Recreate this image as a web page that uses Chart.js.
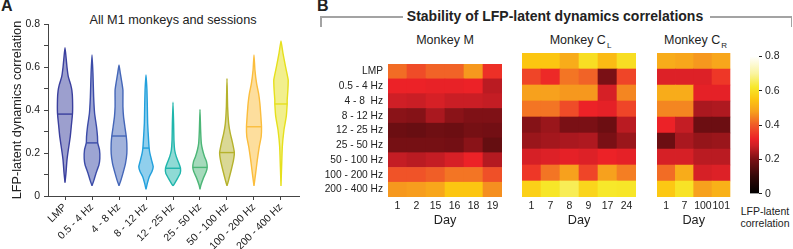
<!DOCTYPE html>
<html><head><meta charset="utf-8">
<script src="https://cdn.jsdelivr.net/npm/chart.js@4.4.1/dist/chart.umd.min.js"></script>
<style>
html,body{margin:0;padding:0;background:#fff;width:793px;height:249px;overflow:hidden;font-family:'Liberation Sans',Arial,Helvetica,sans-serif;color:#222}
canvas{position:absolute;display:block}
.t{position:absolute;white-space:nowrap;line-height:1}
.c{transform:translate(-50%,-50%)}
.ln{position:absolute;background:#a3a3a3}
</style></head><body>
<div class="t" style="left:1px;top:-2px;font-size:16px;font-weight:bold">A</div>
<div class="t c" style="left:173px;top:20px;font-size:12.7px">All M1 monkeys and sessions</div>
<div class="t" style="left:317px;top:-2px;font-size:16px;font-weight:bold">B</div>
<div class="ln" style="left:320px;top:16px;width:83px;height:1.5px"></div>
<div class="ln" style="left:320px;top:16px;width:1.5px;height:11px"></div>
<div class="ln" style="left:710px;top:16px;width:82px;height:1.5px"></div>
<div class="ln" style="left:790.5px;top:16px;width:1.5px;height:11px"></div>
<div class="t c" style="left:555px;top:16px;font-size:14px;font-weight:bold">Stability of LFP-latent dynamics correlations</div>
<div class="t c" style="left:445px;top:40px;font-size:12.5px">Monkey M</div>
<div class="t c" style="left:580px;top:40px;font-size:12.5px">Monkey C<span style="font-size:8px;position:relative;top:4px;left:1px">L</span></div>
<div class="t c" style="left:695px;top:40px;font-size:12.5px">Monkey C<span style="font-size:8px;position:relative;top:4px;left:1px">R</span></div>
<div class="t c" style="left:765px;top:211px;font-size:10.5px">LFP-latent</div>
<div class="t c" style="left:765px;top:223px;font-size:10.5px">correlation</div>

<canvas id="violin" width="300" height="249" style="left:0;top:0;width:300px;height:249px"></canvas>
<canvas id="hmM" width="202" height="179" style="left:300px;top:53px;width:202px;height:179px"></canvas>
<canvas id="hmCL" width="114" height="179" style="left:522px;top:53px;width:114px;height:179px"></canvas>
<canvas id="hmCR" width="76" height="179" style="left:657px;top:53px;width:76px;height:179px"></canvas>
<canvas id="cbar" width="43" height="156" style="left:750px;top:47px;width:43px;height:156px"></canvas>

<script>
// ---------------- DATA ----------------
const bandCategories = ['LMP','0.5 - 4 Hz','4 - 8 Hz','8 - 12 Hz','12 - 25 Hz','25 - 50 Hz','50 - 100 Hz','100 - 200 Hz','200 - 400 Hz'];
const medians = [0.381,0.247,0.279,0.223,0.129,0.133,0.202,0.322,0.428];
// violin outlines: [correlation value, relative density (0..1)] from bottom tip to top tip
const violinLMP   = [[0.062,0],[0.105,0.12],[0.167,0.25],[0.214,0.42],[0.276,0.67],[0.32,0.79],[0.385,0.96],[0.45,0.96],[0.49,0.88],[0.52,0.71],[0.555,0.42],[0.60,0.25],[0.65,0.12],[0.69,0]];
const violin05_4  = [[0.048,0],[0.074,0.25],[0.105,0.5],[0.144,0.88],[0.175,1.0],[0.214,0.96],[0.247,0.73],[0.276,0.7],[0.32,0.58],[0.385,0.33],[0.46,0.21],[0.57,0.12],[0.656,0]];
const violin4_8   = [[0.048,0],[0.074,0.25],[0.105,0.5],[0.152,0.83],[0.198,1.0],[0.245,1.0],[0.279,0.92],[0.322,0.75],[0.369,0.58],[0.415,0.5],[0.447,0.5],[0.493,0.5],[0.524,0.38],[0.57,0.17],[0.609,0]];
const violin8_12  = [[0.031,0],[0.059,0.17],[0.09,0.42],[0.113,0.75],[0.136,0.92],[0.167,0.71],[0.198,0.5],[0.223,0.4],[0.26,0.33],[0.338,0.21],[0.415,0.17],[0.493,0.12],[0.563,0]];
const violin12_25 = [[0.047,0],[0.059,0.21],[0.082,0.58],[0.105,0.92],[0.129,0.96],[0.152,0.75],[0.183,0.42],[0.214,0.21],[0.26,0.12],[0.338,0.08],[0.436,0]];
const violin25_50 = [[0.031,0],[0.051,0.12],[0.082,0.42],[0.113,0.79],[0.133,0.92],[0.16,0.83],[0.183,0.58],[0.214,0.33],[0.245,0.17],[0.307,0.08],[0.403,0]];
const violin50_100= [[0.047,0],[0.074,0.21],[0.121,0.54],[0.167,0.83],[0.202,0.94],[0.253,0.67],[0.291,0.42],[0.338,0.21],[0.415,0.08],[0.547,0]];
const violin100_200=[[0.047,0],[0.105,0.21],[0.167,0.42],[0.229,0.67],[0.276,0.92],[0.322,0.96],[0.369,0.88],[0.431,0.75],[0.478,0.58],[0.524,0.33],[0.586,0.12],[0.656,0]];
const violin200_400=[[0.047,0],[0.136,0.08],[0.229,0.17],[0.307,0.38],[0.369,0.67],[0.428,0.79],[0.447,0.79],[0.493,0.88],[0.54,0.92],[0.602,0.58],[0.664,0.25],[0.721,0]];
const violinOutlines = [violinLMP,violin05_4,violin4_8,violin8_12,violin12_25,violin25_50,violin50_100,violin100_200,violin200_400];
const violinTicks = [0,0.1,0.2,0.3,0.4,0.5,0.6,0.7,0.8];

const rowLabels = ['LMP','0.5 - 4 Hz','4 - 8  Hz','8 - 12 Hz','12 - 25 Hz','25 - 50 Hz','50 - 100 Hz','100 - 200 Hz','200 - 400 Hz'];
const daysM  = ['1','2','15','16','18','19'];
const daysCL = ['1','7','8','9','17','24'];
const daysCR = ['1','7','100','101'];
const corrM = [
  [0.42,0.38,0.41,0.41,0.47,0.34],
  [0.32,0.32,0.315,0.315,0.32,0.26],
  [0.28,0.275,0.29,0.275,0.275,0.27],
  [0.215,0.21,0.245,0.215,0.205,0.205],
  [0.18,0.175,0.185,0.18,0.195,0.19],
  [0.195,0.195,0.195,0.19,0.215,0.17],
  [0.27,0.26,0.27,0.29,0.32,0.255],
  [0.39,0.39,0.405,0.43,0.43,0.385],
  [0.47,0.475,0.49,0.55,0.55,0.46]];
const corrCL = [
  [0.55,0.55,0.50,0.60,0.53,0.60],
  [0.37,0.33,0.43,0.41,0.20,0.37],
  [0.48,0.48,0.47,0.47,0.29,0.45],
  [0.43,0.43,0.38,0.32,0.31,0.37],
  [0.21,0.23,0.20,0.20,0.18,0.26],
  [0.23,0.24,0.245,0.25,0.20,0.23],
  [0.29,0.30,0.31,0.30,0.32,0.31],
  [0.35,0.43,0.48,0.37,0.48,0.44],
  [0.57,0.615,0.65,0.58,0.62,0.615]];
const corrCR = [
  [0.50,0.49,0.47,0.49],
  [0.30,0.30,0.30,0.35],
  [0.50,0.50,0.31,0.31],
  [0.45,0.45,0.245,0.25],
  [0.32,0.27,0.18,0.18],
  [0.18,0.245,0.225,0.23],
  [0.29,0.29,0.26,0.26],
  [0.42,0.50,0.29,0.30],
  [0.555,0.61,0.48,0.51]];
const colorbarTicks = [0,0.2,0.4,0.6,0.8];

// ---------------- STYLE ----------------
Chart.defaults.font.family = "'Liberation Sans', Arial, Helvetica, sans-serif";
Chart.defaults.color = '#222';
const violinStroke = ['#3a3f9e','#3b4ba8','#4466b8','#22a0dc','#20b6ac','#4cb677','#b5b22c','#fbbd3c','#e6e01c'];
const cmapStops = [[0,'#000000'],[0.1,'#330808'],[0.2,'#7a1015'],[0.28,'#cf1f26'],[0.32,'#ec2227'],[0.4,'#f05a28'],[0.48,'#f7a11d'],[0.55,'#fcc611'],[0.62,'#f7e82a'],[0.7,'#faf4a0'],[0.8,'#ffffff']];

function hex2rgb(h){return [parseInt(h.slice(1,3),16),parseInt(h.slice(3,5),16),parseInt(h.slice(5,7),16)];}
function rgba(h,a){const c=hex2rgb(h);return `rgba(${c[0]},${c[1]},${c[2]},${a})`;}
function cmap(v){
  if(v<=cmapStops[0][0]) return cmapStops[0][1];
  for(let i=1;i<cmapStops.length;i++){
    const [v1,c1]=cmapStops[i];
    if(v<=v1){
      const [v0,c0]=cmapStops[i-1];
      const t=(v-v0)/(v1-v0), a=hex2rgb(c0), b=hex2rgb(c1);
      return `rgb(${Math.round(a[0]+(b[0]-a[0])*t)},${Math.round(a[1]+(b[1]-a[1])*t)},${Math.round(a[2]+(b[2]-a[2])*t)})`;
    }
  }
  return cmapStops[cmapStops.length-1][1];
}

// ---------------- PANEL A: violins ----------------
const HALF = 0.29;
function polygon(i, outline){
  const left = outline.map(([v,d])=>({x:i-d*HALF,y:v}));
  const right = outline.slice(0,-1).reverse().map(([v,d])=>({x:i+d*HALF,y:v}));
  return left.concat(right);
}
function densityAt(outline, v){
  for(let k=1;k<outline.length;k++){
    if(v<=outline[k][0]){const [a,da]=outline[k-1],[b,db]=outline[k];return da+(db-da)*(v-a)/(b-a);}
  }
  return 0;
}
const vDatasets = [];
violinOutlines.forEach((o,i)=>{
  vDatasets.push({data:polygon(i,o),borderColor:violinStroke[i],backgroundColor:rgba(violinStroke[i],0.5),fill:'shape',borderWidth:1.4,pointRadius:0,tension:0.15});
  const d = densityAt(o,medians[i]);
  vDatasets.push({data:[{x:i-d*HALF,y:medians[i]},{x:i+d*HALF,y:medians[i]}],borderColor:violinStroke[i],borderWidth:1.4,pointRadius:0,fill:false});
});
new Chart(document.getElementById('violin'),{
  type:'line',
  data:{datasets:vDatasets},
  options:{
    responsive:false,animation:false,devicePixelRatio:1,
    layout:{padding:{top:24,right:1,left:0,bottom:0},autoPadding:false},
    plugins:{legend:{display:false},tooltip:{enabled:false}},
    scales:{
      x:{type:'linear',min:-0.63,max:8.667,
        afterBuildTicks:s=>{s.ticks=bandCategories.map((c,i)=>({value:i}));},
        ticks:{callback:v=>bandCategories[v],minRotation:45,maxRotation:45,autoSkip:false,font:{size:10.5},padding:1},
        grid:{drawOnChartArea:false,drawTicks:true,tickLength:4,color:'#444'},
        border:{display:true,color:'#444',width:1},
        afterFit:s=>{s.height=53;}},
      y:{type:'linear',min:0,max:0.8,
        afterBuildTicks:s=>{s.ticks=violinTicks.map(v=>({value:v}));},
        ticks:{callback:v=>{const k=Math.round(v*10);return k%2?'':(k===0?'0':(k/10).toFixed(1));},font:{size:10.5},padding:4,autoSkip:false},
        grid:{drawOnChartArea:false,tickLength:4,color:'#444'},
        border:{display:true,color:'#444',width:1},
        title:{display:true,text:'LFP-latent dynamics correlation',font:{size:12.7},padding:{top:10,bottom:0}},
        afterFit:s=>{s.width=48;}}
    }
  }
});

// ---------------- PANEL B: heatmaps ----------------
function heatmap(id, days, corr, showRows){
  const n = rowLabels.length;
  const datasets = [];
  for(let r=n-1;r>=0;r--){
    datasets.push({data:days.map(()=>1),backgroundColor:corr[r].map(cmap),borderWidth:0,barPercentage:1,categoryPercentage:1});
  }
  new Chart(document.getElementById(id),{
    type:'bar',
    data:{labels:days,datasets},
    options:{
      responsive:false,animation:false,devicePixelRatio:1,
      layout:{padding:0,autoPadding:false},
      plugins:{legend:{display:false},tooltip:{enabled:false}},
      scales:{
        x:{stacked:true,grid:{display:false,drawTicks:false},border:{display:false},
          ticks:{font:{size:10.5},padding:3,autoSkip:false,maxRotation:0},
          title:{display:true,text:'Day',font:{size:12.7},padding:{top:0,bottom:4}},
          afterFit:s=>{s.height=35;}},
        y:{type:'linear',stacked:true,min:0,max:n,display:showRows,
          afterBuildTicks:s=>{s.ticks=rowLabels.map((l,r)=>({value:n-0.5-r}));},
          ticks:{callback:v=>rowLabels[Math.round(n-0.5-v)],font:{size:10.2},padding:5,autoSkip:false},
          grid:{display:false,drawTicks:false},border:{display:false},
          afterFit:s=>{s.width=showRows?88:0;}}
      }
    }
  });
}
heatmap('hmM',daysM,corrM,true);
heatmap('hmCL',daysCL,corrCL,false);
heatmap('hmCR',daysCR,corrCR,false);

// ---------------- colorbar ----------------
new Chart(document.getElementById('cbar'),{
  type:'bar',
  data:{labels:[''],datasets:[{data:[[0,0.8]],borderWidth:0,barPercentage:1,categoryPercentage:1,
    backgroundColor:(c)=>{
      const ch=c.chart; if(!ch.chartArea) return '#000';
      const y=ch.scales.y; const g=ch.ctx.createLinearGradient(0,y.getPixelForValue(0),0,y.getPixelForValue(0.8));
      cmapStops.forEach(([v,col])=>g.addColorStop(v/0.8,col)); return g;}}]},
  options:{
    responsive:false,animation:false,devicePixelRatio:1,
    layout:{padding:{top:6,bottom:6,left:0,right:0},autoPadding:false},
    plugins:{legend:{display:false},tooltip:{enabled:false}},
    scales:{
      x:{display:false},
      y:{position:'right',min:0,max:0.8,
        afterBuildTicks:s=>{s.ticks=colorbarTicks.map(v=>({value:v}));},
        ticks:{callback:v=>v===0?'0':v.toFixed(1),font:{size:10.5},padding:3},
        grid:{drawOnChartArea:false,tickLength:3,color:'#222'},
        border:{display:false},
        afterFit:s=>{s.width=34;}}
    }
  }
});
</script>
</body></html>
